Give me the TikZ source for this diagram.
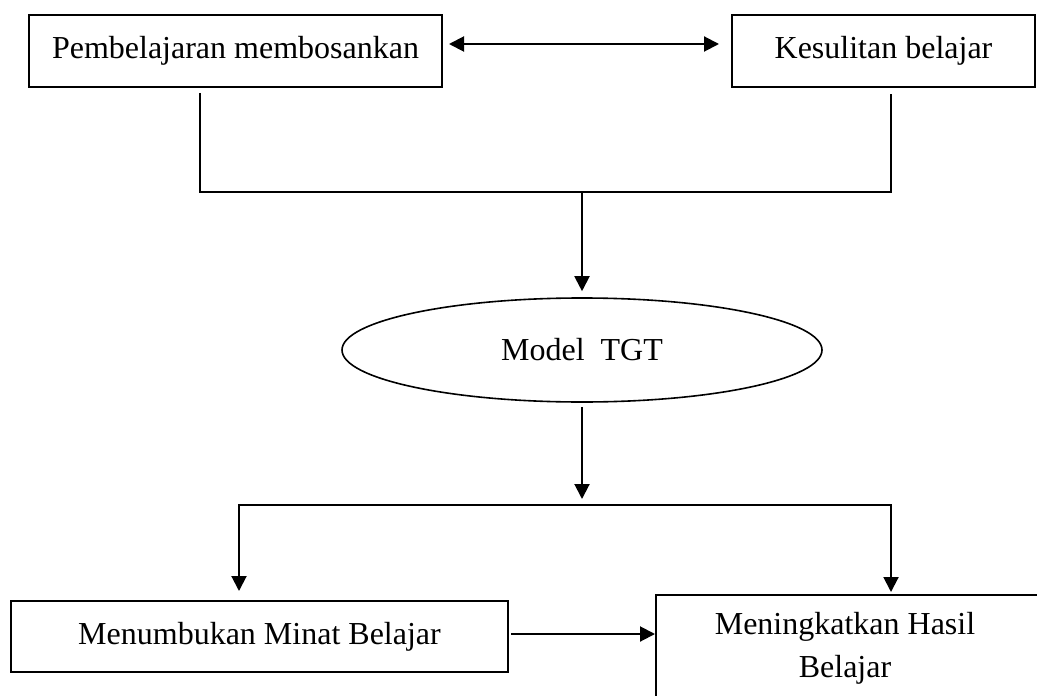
\documentclass[tikz,border=0pt]{standalone}
\usepackage{fontspec}
\setmainfont{Liberation Serif}
\usetikzlibrary{arrows.meta,calc,shapes.geometric}
\begin{document}
\begin{tikzpicture}[x=0.5pt,y=-0.5pt,
  every node/.style={font=\fontsize{16}{21.5}\selectfont, inner sep=0pt},
  boxnode/.style={draw, line width=1pt, rectangle},
  ellnode/.style={draw, line width=0.8pt, ellipse},
  conn/.style={line width=1pt},
  arr/.style={conn, -{Triangle[length=7.5pt,width=7.5pt]}},
  darr/.style={conn, {Triangle[length=7.5pt,width=7.5pt]}-{Triangle[length=7.5pt,width=7.5pt]}}]
\useasboundingbox (0,0) rectangle (1037,695);
\clip (0,0) rectangle (1037,695);
\fill[white] (0,0) rectangle (1037,695);

\node[boxnode, minimum width=206.5pt, minimum height=36pt] (b1) at (235.5,51) {Pembelajaran membosankan};
\node[boxnode, minimum width=151.5pt, minimum height=36pt] (b2) at (883.5,51) {Kesulitan belajar};
\node[ellnode, minimum width=240pt, minimum height=52pt] (ell) at (582,350) {Model\ \ TGT};
\node[boxnode, minimum width=248.5pt, minimum height=35.5pt] (b3) at (259.5,636.5) {Menumbukan Minat Belajar};
\node[boxnode, minimum width=196pt, minimum height=56pt] (b4) at (852,651) {};
\node[align=center] (b4t) at (845,648) {Meningkatkan Hasil\\Belajar};

\coordinate (j1) at (582,192);
\coordinate (j2) at (582,505);

\draw[darr] ($(b1.east)+(6,-7)$) -- ($(b2.west)+(-12,-7)$);
\draw[conn] ($(b1.south)+(-35.5,5)$) |- (j1) -| ($(b2.south)+(7.5,6)$);
\draw[arr] (j1) -- ($(ell.north)+(0,-6)$);
\draw[arr] ($(ell.south)+(0,4)$) -- ($(j2)+(0,-6)$);
\draw[arr] (j2) -| ($(b3.north)+(-20.5,-9)$);
\draw[arr] (j2) -| ($(b4.north)+(39,-2)$);
\coordinate (a3) at ($(b3.east)+(2,-2.5)$);
\draw[arr] (a3) -- (a3 -| b4.west);
\end{tikzpicture}
\end{document}
